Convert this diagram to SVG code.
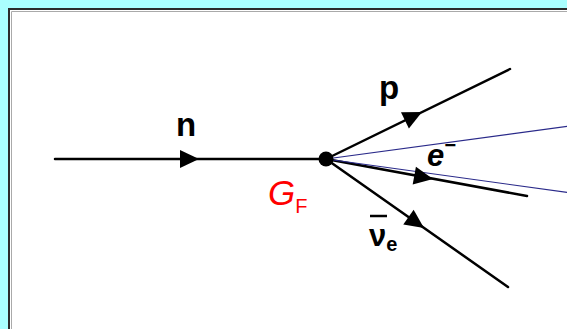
<svg xmlns="http://www.w3.org/2000/svg" width="567" height="329" viewBox="0 0 567 329">
<style>
.ln{stroke:#000;stroke-width:2.5;fill:none;stroke-linecap:round}
.bl{stroke:#2a2a8a;stroke-width:1.2;fill:none}
.lbl{font-family:"Liberation Sans",Arial,sans-serif;font-weight:bold;fill:#000}
</style>
<defs>
<polygon id="arr" points="0,0 -19,-9 -19,9" fill="#000"/>
</defs>
<rect x="0" y="0" width="567" height="329" fill="#aaffff"/>
<rect x="9" y="9" width="620" height="400" fill="#fff" stroke="#2b2b2b" stroke-width="2"/>
<path d="M11.5 11.5H620M11.5 11.5V400" stroke="#aaa" stroke-width="1" fill="none"/>
<g id="connectors">
<line class="ln" x1="55" y1="159" x2="326" y2="159"/>
<line class="ln" x1="326" y1="159" x2="510" y2="69"/>
<line class="ln" x1="326" y1="159" x2="527" y2="196"/>
<line class="ln" x1="326" y1="159" x2="508" y2="287"/>
<line class="bl" x1="326" y1="159" x2="600" y2="122"/>
<line class="bl" x1="326" y1="159" x2="600" y2="197"/>
<use href="#arr" transform="translate(199,159)"/>
<use href="#arr" transform="translate(422,112) rotate(-26.1)"/>
<use href="#arr" transform="translate(433,179) rotate(10.4)"/>
<use href="#arr" transform="translate(424,228) rotate(35.1)"/>
</g>
<g id="vertex"><circle cx="326" cy="159" r="7.5" fill="#000"/></g>
<g id="n"><text class="lbl" x="176" y="136" font-size="33">n</text></g>
<g id="p"><text class="lbl" x="379" y="99" font-size="33">p</text></g>
<g id="e"><text class="lbl" x="427" y="166" font-size="31" font-style="italic">e<tspan font-size="20" dy="-14">−</tspan></text></g>
<g id="GF"><text x="268" y="205" font-family="Liberation Sans,Arial,sans-serif" font-style="italic" font-size="35" fill="#ff0000">G<tspan font-style="normal" font-size="20" dy="8">F</tspan></text></g>
<g id="nue"><text class="lbl" x="369" y="246" font-size="31">ν<tspan font-size="20" dy="5">e</tspan></text>
<line x1="370" y1="216" x2="387" y2="216" stroke="#000" stroke-width="2.5"/></g>
</svg>
